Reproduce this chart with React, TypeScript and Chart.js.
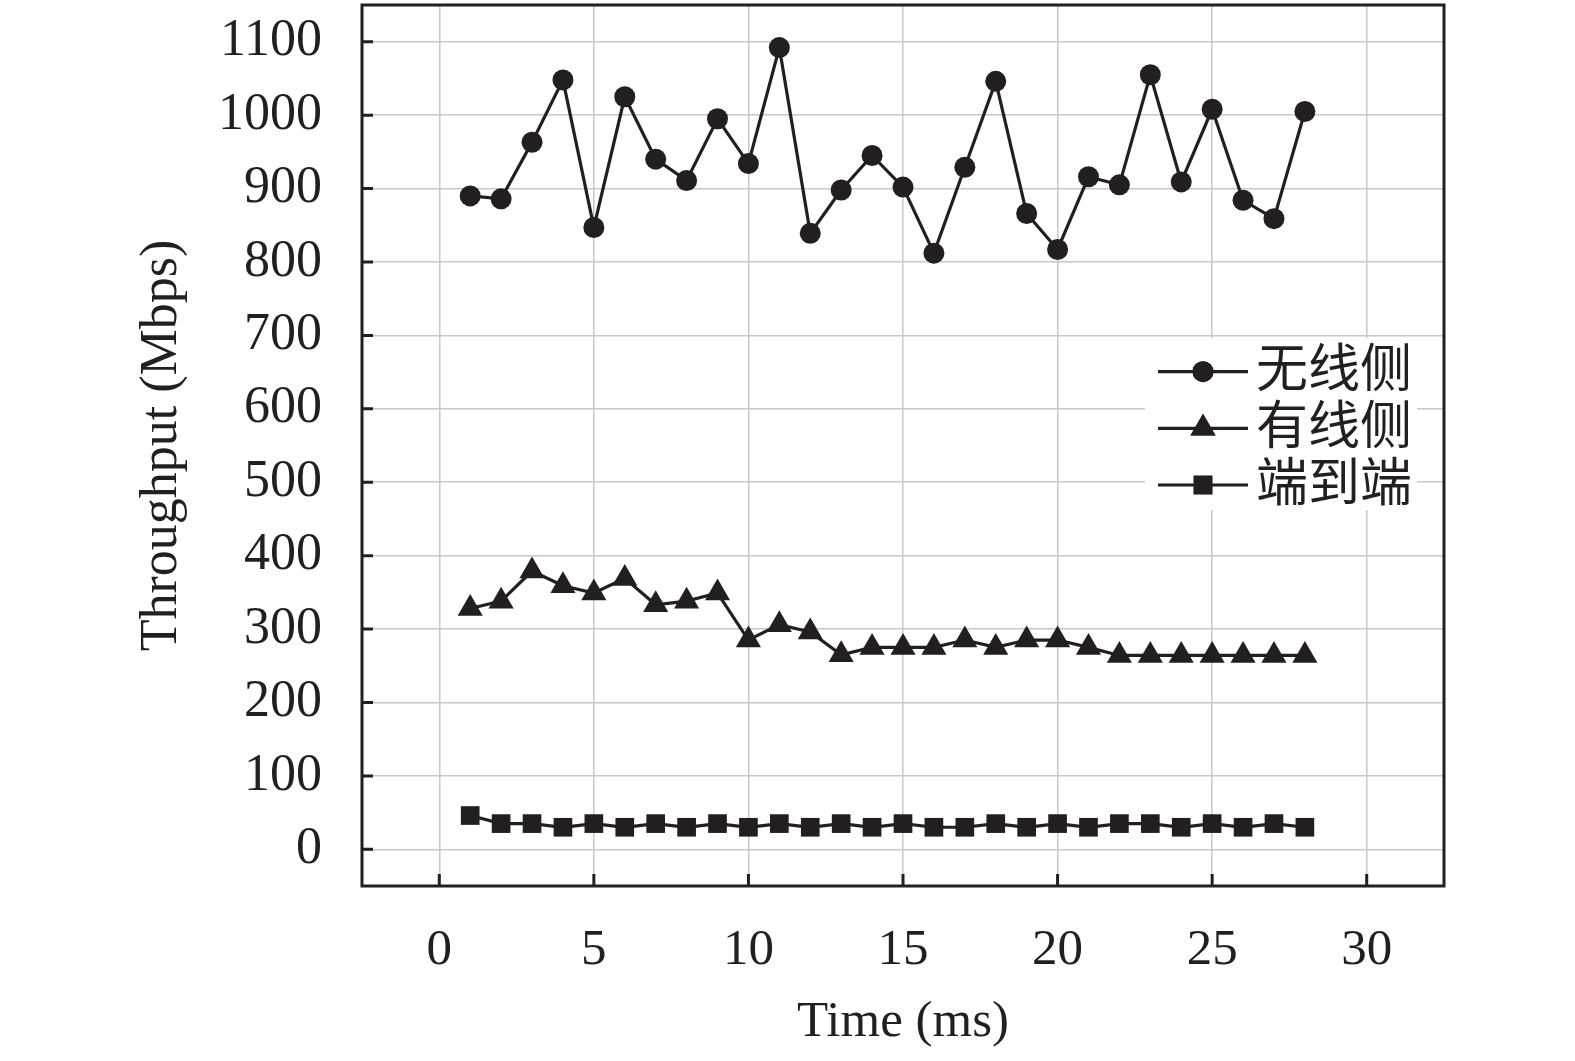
import React, { useEffect, useRef } from 'react';
import { Chart, registerables } from 'chart.js';
import { drawPoint } from 'chart.js/helpers';

Chart.register(...registerables);

const timeMs = [1, 2, 3, 4, 5, 6, 7, 8, 9, 10, 11, 12, 13, 14, 15, 16, 17, 18, 19, 20, 21, 22, 23, 24, 25, 26, 27, 28];
const wirelessSide = [890, 886, 963, 1048, 847, 1025, 940, 911, 995, 934, 1092, 839, 898, 945, 902, 812, 929, 1046, 866, 817, 916, 905, 1055, 909, 1008, 884, 859, 1005];
const wiredSide = [328, 338, 379, 359, 349, 369, 333, 338, 349, 285, 306, 296, 265, 275, 275, 275, 285, 275, 285, 285, 275, 264, 264, 264, 264, 264, 264, 264];
const endToEnd = [46, 35, 35, 30, 35, 30, 35, 30, 35, 30, 35, 30, 35, 30, 35, 30, 30, 35, 30, 35, 30, 35, 35, 30, 35, 30, 35, 30];
const seriesNames = ['无线侧', '有线侧', '端到端'];
const xTicks = [0, 5, 10, 15, 20, 25, 30];
const yTicks = [0, 100, 200, 300, 400, 500, 600, 700, 800, 900, 1000, 1100];

const INK = '#231f20';
const GRID = '#c8c8c8';
const SERIF = "'Liberation Serif', 'Times New Roman', serif";
const CJK = "'Noto Sans CJK SC', sans-serif";

const markerStyles = [
  { pointStyle: 'circle', radius: 10.5 },
  { pointStyle: 'triangle', radius: 14.5 },
  { pointStyle: 'rect', radius: 13.2 },
];

const framePlugin = {
  id: 'frameAndLegend',
  afterDraw(chart: any) {
    const { ctx, chartArea } = chart;
    const xs = chart.scales.x;
    const ys = chart.scales.y;
    ctx.save();
    // legend
    const lx = 1145, ly = 338, lw = 272, lh = 172;
    ctx.fillStyle = '#ffffff';
    ctx.fillRect(lx, ly, lw, lh);
    const rows = [371.7, 428.3, 485];
    chart.data.datasets.forEach((ds: any, i: number) => {
      const y = rows[i];
      ctx.strokeStyle = INK;
      ctx.lineWidth = 3.2;
      ctx.beginPath();
      ctx.moveTo(1158, y);
      ctx.lineTo(1248, y);
      ctx.stroke();
      ctx.fillStyle = INK;
      drawPoint(ctx, { pointStyle: markerStyles[i].pointStyle as any, radius: markerStyles[i].radius, rotation: 0, borderWidth: 0 }, 1203, y);
      ctx.fillStyle = INK;
      ctx.fill();
      ctx.font = `52px ${CJK}`;
      ctx.textBaseline = 'middle';
      ctx.textAlign = 'left';
      ctx.fillStyle = INK;
      ctx.fillText(ds.label, 1256, y - 4);
    });
    // frame
    ctx.strokeStyle = INK;
    ctx.lineWidth = 3;
    ctx.strokeRect(chartArea.left, chartArea.top, chartArea.right - chartArea.left, chartArea.bottom - chartArea.top);
    // inward ticks
    ctx.lineWidth = 3;
    ctx.beginPath();
    xTicks.forEach((v) => {
      const px = xs.getPixelForValue(v);
      ctx.moveTo(px, chartArea.bottom);
      ctx.lineTo(px, chartArea.bottom - 12);
    });
    yTicks.forEach((v) => {
      const py = ys.getPixelForValue(v);
      ctx.moveTo(chartArea.left, py);
      ctx.lineTo(chartArea.left + 11, py);
    });
    ctx.stroke();
    ctx.restore();
  },
};

export default function App() {
  const ref = useRef<HTMLCanvasElement | null>(null);
  useEffect(() => {
    if (!ref.current) return;
    const seriesValues = [wirelessSide, wiredSide, endToEnd];
    const chart = new Chart(ref.current, {
      type: 'line',
      data: {
        datasets: seriesValues.map((vals, i) => ({
          label: seriesNames[i],
          data: timeMs.map((t, j) => ({ x: t, y: vals[j] })),
          borderColor: INK,
          backgroundColor: INK,
          borderWidth: 3.2,
          pointStyle: markerStyles[i].pointStyle as any,
          pointRadius: markerStyles[i].radius,
          pointBorderWidth: 0,
          pointBackgroundColor: INK,
          pointBorderColor: INK,
          tension: 0,
          fill: false,
        })),
      },
      options: {
        animation: false,
        responsive: false,
        maintainAspectRatio: false,
        layout: { autoPadding: false, padding: { top: 5, right: 131, left: 0, bottom: 0 } },
        plugins: { legend: { display: false }, tooltip: { enabled: false } },
        scales: {
          x: {
            type: 'linear',
            min: -2.5,
            max: 32.5,
            afterBuildTicks: (s: any) => { s.ticks = xTicks.map((v) => ({ value: v })); },
            afterFit: (s: any) => { s.height = 175; s.paddingLeft = 0; s.paddingRight = 0; s.paddingTop = 0; s.paddingBottom = 0; },
            grid: { color: GRID, lineWidth: 1.5, drawTicks: false },
            border: { display: false },
            ticks: { font: { family: SERIF, size: 51 }, color: INK, padding: 34, maxRotation: 0, autoSkip: false, callback: (v: any) => String(v) },
            title: { display: true, text: 'Time (ms)', font: { family: SERIF, size: 51 }, color: INK, padding: { bottom: 8, top: 0 } },
          },
          y: {
            type: 'linear',
            min: -50,
            max: 1150,
            afterBuildTicks: (s: any) => { s.ticks = yTicks.map((v) => ({ value: v })); },
            afterFit: (s: any) => { s.width = 362; s.paddingLeft = 0; s.paddingRight = 0; s.paddingTop = 0; s.paddingBottom = 0; },
            grid: { color: GRID, lineWidth: 1.5, drawTicks: false },
            border: { display: false },
            ticks: { font: { family: SERIF, size: 52 }, color: INK, padding: 40, autoSkip: false, callback: (v: any) => String(v) },
            title: { display: true, text: 'Throughput (Mbps)', font: { family: SERIF, size: 52 }, color: INK, padding: { top: 131, bottom: 0 } },
          },
        },
      },
      plugins: [framePlugin],
    } as any);
    return () => chart.destroy();
  }, []);
  return (
    <div style={{ position: 'absolute', left: 0, top: 0, width: 1575, height: 1061, background: '#fff' }}>
      <canvas ref={ref} width={1575} height={1061} style={{ display: 'block', width: 1575, height: 1061 }} />
    </div>
  );
}
